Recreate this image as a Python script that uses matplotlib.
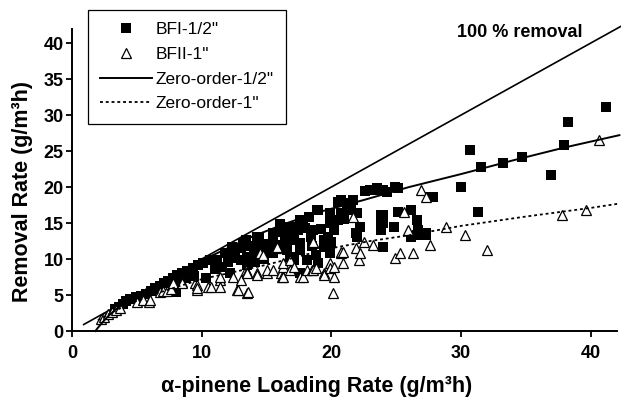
import matplotlib
matplotlib.use("Agg")
import matplotlib.pyplot as plt

plt.rcParams["font.family"] = ["Liberation Sans", "DejaVu Sans"]

# BFI-1/2" (filled squares): loading rate, removal rate
bfi_x = [3.3, 3.6, 3.9, 4.2, 4.5, 4.9, 5.3, 5.7, 6.1, 6.4, 6.8, 7.1, 7.4, 7.8, 8.1,
         8.5, 8.9, 9.3, 9.7, 10.1, 7.6, 8.0, 8.3, 8.8, 9.4, 10.3, 10.6, 11.0,
         11.2, 11.6, 12.0, 12.2, 12.5, 13.0, 13.0, 13.2, 12.6, 11.8, 13.5, 13.8,
         14.3, 14.4, 14.3, 14.5, 14.8, 15.0, 11.0, 12.0, 13.5, 14.0,
         15.5, 15.5, 15.5, 16.1, 16.4, 16.8, 16.8, 17.1, 17.1, 17.6, 17.6, 17.6,
         17.6, 17.8, 18.1, 18.4, 18.6, 18.9, 19.0, 19.4, 19.4, 19.7, 19.7, 19.9,
         19.9, 19.9, 19.9, 20.5, 20.7, 20.5, 20.7, 21.2, 21.5, 21.7, 22.0, 16.3,
         18.0, 20.2, 19.0, 15.8, 16.0, 17.0, 18.3, 18.5, 19.2, 20.0, 21.0, 15.2,
         16.6, 17.4, 18.8, 12.3, 13.4, 14.1,
         22.2, 22.0, 21.9, 23.0, 23.2, 24.0, 24.3, 24.9, 25.1, 23.8, 24.0, 25.1,
         26.1, 24.0, 23.8, 24.8, 23.8, 26.6, 26.7, 26.1, 27.3, 26.6, 27.3, 24.0,
         27.6, 27.8, 22.6, 23.5,
         30.0, 30.7, 31.5, 31.3, 33.2, 34.7, 36.9, 37.9, 38.2, 41.2]
bfi_y = [3.0, 3.3, 3.8, 4.1, 4.4, 4.7, 4.9, 5.2, 5.5, 6.0, 6.3, 6.6, 7.0, 7.4, 7.8,
         8.1, 8.4, 8.7, 9.1, 9.4, 6.1, 5.4, 6.9, 7.4, 7.7, 7.4, 9.8, 9.5,
         9.9, 8.9, 9.6, 8.0, 10.2, 9.9, 11.5, 12.2, 11.0, 10.8, 10.3, 11.8,
         12.6, 12.9, 13.1, 11.3, 10.0, 12.1, 8.6, 10.6, 9.2, 11.0,
         13.1, 13.6, 10.8, 11.7, 12.6, 14.5, 10.3, 12.6, 9.9, 15.4, 12.2, 11.3,
         8.0, 15.0, 9.9, 13.1, 14.0, 16.8, 16.8, 12.6, 11.7, 13.1, 12.9, 15.0,
         10.8, 11.3, 16.4, 17.9, 16.4, 15.4, 18.2, 16.8, 17.8, 18.2, 16.4, 13.8,
         14.3, 14.0, 9.5, 12.0, 14.8, 13.5, 15.8, 11.8, 14.2, 12.4, 15.6, 11.0,
         11.2, 14.0, 10.6, 11.6, 12.7, 9.6,
         14.5, 13.1, 13.6, 19.6, 19.6, 19.6, 19.3, 20.0, 19.9, 16.1, 16.1, 16.5,
         16.8, 15.0, 15.0, 14.5, 14.0, 15.4, 14.0, 13.1, 13.3, 13.3, 13.6, 11.7,
         18.6, 18.6, 19.4, 19.8,
         20.0, 25.1, 22.8, 16.5, 23.3, 24.2, 21.7, 25.8, 29.0, 31.1]

# BFII-1" (open triangles)
bfii_x = [2.2, 2.5, 2.8, 3.1, 3.4, 3.7, 5.0, 5.5, 5.9, 6.0, 6.8, 7.0, 7.3, 7.6,
          7.8, 8.5, 8.5, 9.5, 9.6, 9.6, 9.6, 10.5, 10.7, 11.4, 11.4, 11.4, 12.4,
          12.7, 12.8, 13.0, 13.5, 13.6, 13.4, 13.5, 13.5, 14.3, 14.3, 14.5, 14.7,
          15.0, 15.0, 15.5, 15.7, 15.8, 16.1, 16.2, 16.3, 16.3, 16.3, 16.8, 16.8,
          17.1, 17.6, 17.8, 18.1, 18.5, 18.6, 18.6, 18.6, 18.8, 19.4, 19.4, 19.9,
          19.9, 20.1, 20.2, 20.2, 20.7, 20.7, 20.9, 20.9, 21.7, 21.9, 22.1, 22.2,
          22.5, 23.2, 24.9, 25.3, 25.6, 25.9, 26.3, 26.9, 27.3, 27.6, 28.8, 30.3,
          32.0, 37.8, 39.6, 40.6]
bfii_y = [1.7, 2.0, 2.3, 2.6, 2.9, 3.2, 4.0, 4.3, 4.0, 4.3, 5.4, 5.6, 5.6, 5.8,
          6.7, 6.8, 6.7, 6.7, 6.4, 5.7, 6.0, 6.1, 6.1, 7.1, 6.1, 7.5, 7.5,
          5.7, 5.7, 7.1, 5.3, 5.4, 8.5, 8.2, 8.0, 8.0, 7.8, 10.8, 10.6,
          8.0, 8.5, 8.5, 11.5, 11.7, 8.0, 7.5, 7.5, 8.9, 9.4, 8.5, 9.9,
          8.9, 7.5, 7.5, 8.5, 8.5, 8.5, 12.2, 12.4, 8.8, 8.0, 7.8, 9.4,
          8.8, 5.3, 7.5, 8.9, 10.8, 11.0, 9.4, 11.0, 15.8, 11.5, 9.9, 10.8,
          12.4, 11.9, 10.1, 10.8, 16.5, 14.0, 10.8, 19.6, 18.6, 11.9, 14.5, 13.3,
          11.3, 16.1, 16.8, 26.5]

# fitted zero-order curves
zo_half_x = [1.8, 2.2, 2.7, 3.3, 4, 5, 6, 7, 8, 10, 12, 14, 16.6, 19, 22.5, 26,
             30, 34, 38, 42.2]
zo_half_y = [0, 0.9, 1.9, 2.9, 3.8, 5.0, 6.1, 7.1, 8.0, 9.8, 11.5, 13.2, 15.0,
             16.5, 18.2, 20.0, 21.8, 23.7, 25.5, 27.2]
zo_one_x = [2.0, 3, 4, 5, 7, 10, 12, 15, 18, 20, 23, 26, 30, 35, 40, 42.2]
zo_one_y = [1.5, 2.5, 3.4, 4.2, 5.5, 7.2, 8.0, 9.2, 10.6, 11.5, 12.5, 13.3,
            14.6, 15.9, 17.1, 17.7]

# 100 % removal line
full_x = [0.9, 42.4]
full_y = [0.9, 42.4]

fig = plt.figure(figsize=(6.21, 3.97), dpi=100)
ax = fig.add_axes([72 / 621, 66 / 397, 550 / 621, 309.6 / 397])

ax.plot(full_x, full_y, color="black", lw=1.2, clip_on=False)
ax.plot(bfi_x, bfi_y, "s", color="black", ms=7.8, mew=0, label='BFI-1/2"',
        clip_on=False)
ax.plot(bfii_x, bfii_y, "^", mfc="white", mec="black", ms=7.2, mew=0.9,
        label='BFII-1"', clip_on=False)
ax.plot(zo_half_x, zo_half_y, "-", color="black", lw=1.4,
        label='Zero-order-1/2"', clip_on=False)
ax.plot(zo_one_x, zo_one_y, color="black", lw=1.3, dashes=(1.6, 1.6),
        label='Zero-order-1"', clip_on=False)

ax.set_xlim(0, 42.4)
ax.set_ylim(0, 43)
ax.spines["top"].set_visible(False)
ax.spines["right"].set_visible(False)
ax.spines["left"].set_bounds(0, 42)
ax.spines["bottom"].set_bounds(0, 42)
for s in ("left", "bottom"):
    ax.spines[s].set_linewidth(1.4)

ax.set_xticks([0, 10, 20, 30, 40])
ax.set_yticks([0, 5, 10, 15, 20, 25, 30, 35, 40])
ax.tick_params(direction="out", length=4, width=1.3, labelsize=13)
ax.tick_params(axis="x", pad=6)
ax.tick_params(axis="y", pad=2)
for lab in ax.get_xticklabels() + ax.get_yticklabels():
    lab.set_fontweight("bold")

ax.set_xlabel("α-pinene Loading Rate (g/m³h)", fontsize=15.5, fontweight="bold")
ax.set_ylabel("Removal Rate (g/m³h)", fontsize=15.5, fontweight="bold")
ax.xaxis.set_label_coords(0.444, -0.145)
ax.yaxis.set_label_coords(-0.07, 0.45)

ax.text(29.7, 41.5, "100 % removal", fontsize=13, fontweight="bold",
        ha="left", va="center")

leg = ax.legend(loc="upper left", bbox_to_anchor=(88 / 621, 1 - 10 / 397),
                bbox_transform=fig.transFigure, borderaxespad=0, fontsize=12.5,
                handlelength=3.0, handletextpad=0.2, labelspacing=0.55,
                borderpad=0.7, numpoints=1, fancybox=False, framealpha=1,
                edgecolor="black")
leg.get_frame().set_linewidth(0.9)

fig.savefig("out.png", dpi=100)
